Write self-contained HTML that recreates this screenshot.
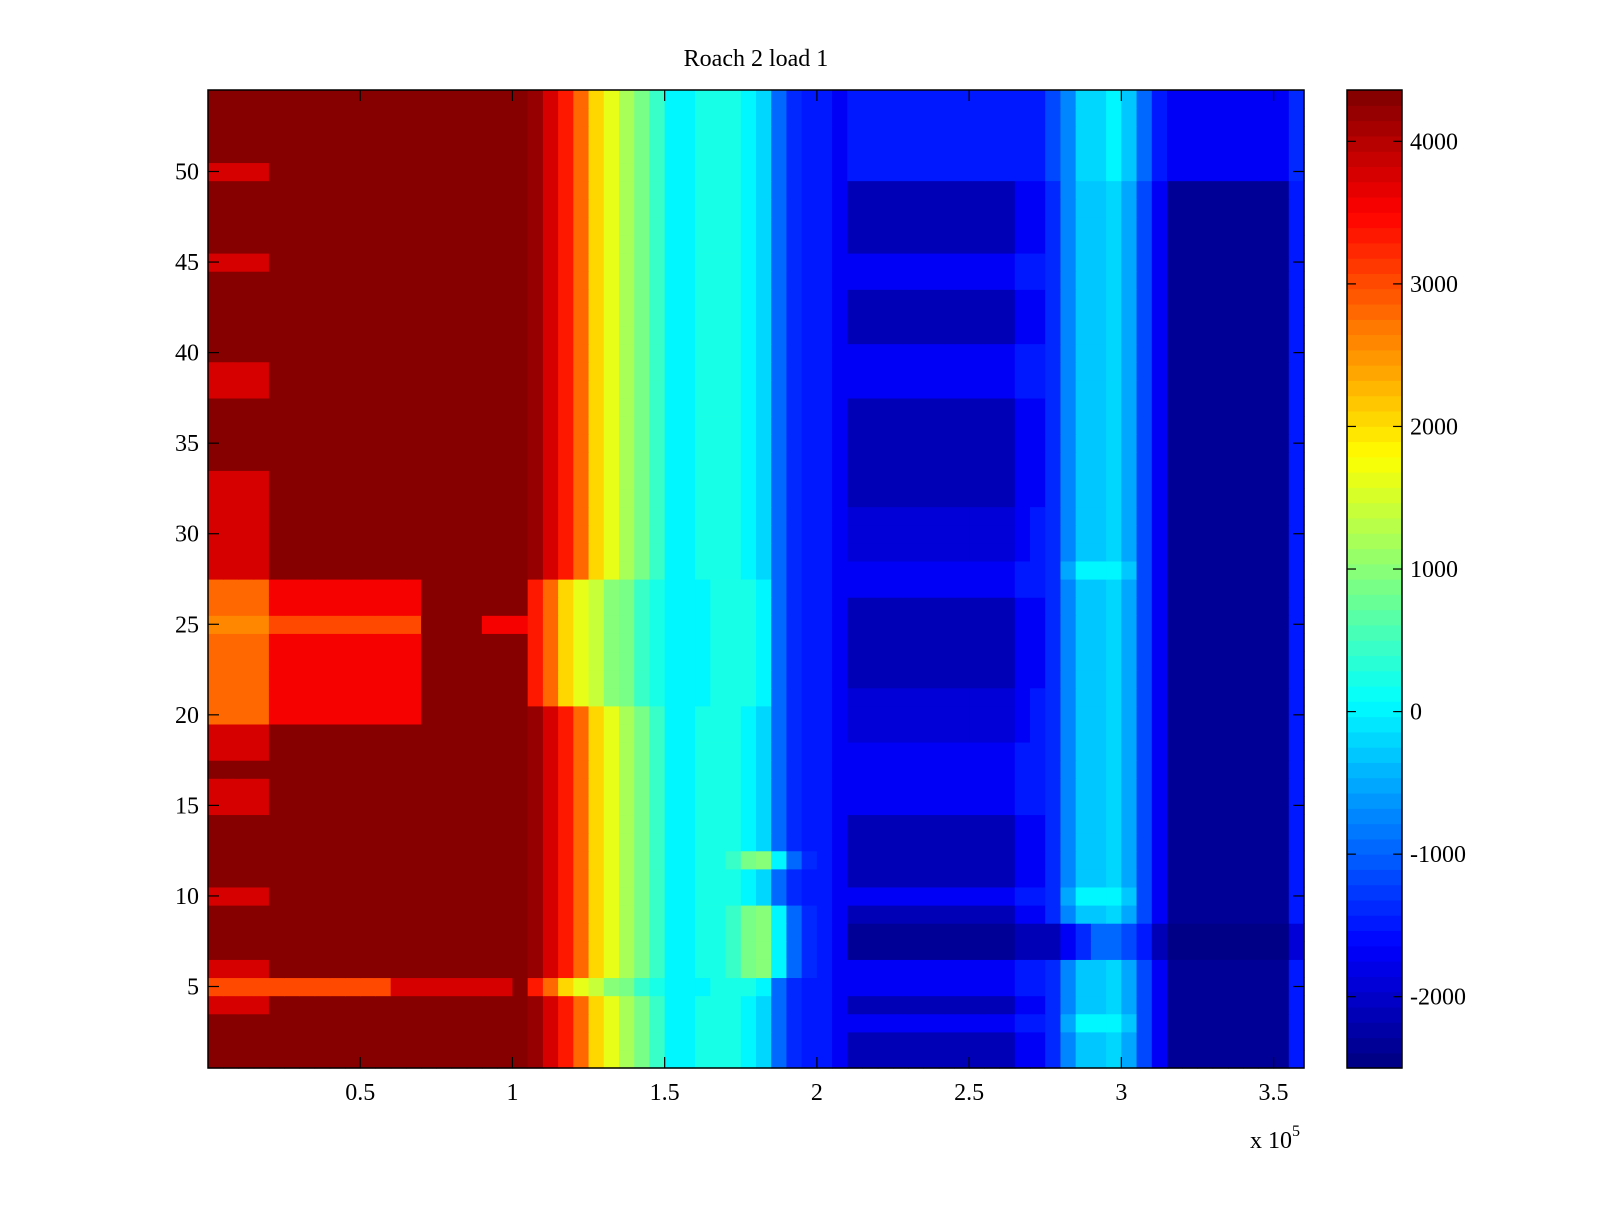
<!DOCTYPE html>
<html><head><meta charset="utf-8"><style>
html,body{margin:0;padding:0;background:#fff;}
svg text{font-family:"Liberation Serif",serif;font-size:24px;fill:#000;}
</style></head><body>
<svg id="fig" width="1600" height="1200" xmlns="http://www.w3.org/2000/svg">
<rect x="0" y="0" width="1600" height="1200" fill="#fff"/>
<text x="756" y="66" text-anchor="middle">Roach 2 load 1</text>
<g id="heat"></g>
<g id="cbar"></g>
<g id="axes"></g>
</svg>
<script>
// ---- data (code char -> value: -2500 + base36digit*196) ----
const xMax = 360000;
const colWidthUnits = 5000;
const Ld = "zzzzzzzzzzzzzzzzzzzzz";
const Lr = "wwwwzzzzzzzzzzzzzzzzz";
const Lo = "rrrrvvvvvvvvvvzzzzzzz";
const L25 = "qqqqsssssssssszzzzvvv";
const L5 = "sssssssssssswwwwwwwwz";
const Md = "ywurnljhfddeeedc86554";
const Me = "urnlkihfedddeeed86554";
const Mg = "ywurnljhfddeefhid8654";
const Rd = "22222222222" + "4469bbca74" + "11111111" + "5";
const Rb = "44444444444" + "5569bbca74" + "11111111" + "5";
const Rm = "33333333333" + "4569bbca74" + "11111111" + "5";
const Rt = "55555555555" + "5579ccdb85" + "44444444" + "6";
const Rw = "11111111111" + "2224688752" + "00000000" + "3";
const Rc = "44444444444" + "556adddb74" + "11111111" + "5";
// rows listed bottom (row 1) to top (row 54)
const rowData = [
 Ld+Md+Rd, Ld+Md+Rd, Ld+Md+Rc, Lr+Md+Rd, L5+Me+Rb,
 Lr+Mg+Rb, Ld+Mg+Rw, Ld+Mg+Rw, Ld+Mg+Rd, Lr+Md+Rc,
 Ld+Md+Rd, Ld+Mg+Rd, Ld+Md+Rd, Ld+Md+Rd, Lr+Md+Rb,
 Lr+Md+Rb, Ld+Md+Rb, Lr+Md+Rb, Lr+Md+Rm, Lo+Md+Rm,
 Lo+Me+Rm, Lo+Me+Rd, Lo+Me+Rd, Lo+Me+Rd, L25+Me+Rd,
 Lo+Me+Rd, Lo+Me+Rb, Lr+Md+Rc, Lr+Md+Rm, Lr+Md+Rm,
 Lr+Md+Rm, Lr+Md+Rd, Lr+Md+Rd, Ld+Md+Rd, Ld+Md+Rd,
 Ld+Md+Rd, Ld+Md+Rd, Lr+Md+Rb, Lr+Md+Rb, Ld+Md+Rb,
 Ld+Md+Rd, Ld+Md+Rd, Ld+Md+Rd, Ld+Md+Rb, Lr+Md+Rb,
 Ld+Md+Rd, Ld+Md+Rd, Ld+Md+Rd, Ld+Md+Rd, Lr+Md+Rt,
 Ld+Md+Rt, Ld+Md+Rt, Ld+Md+Rt, Ld+Md+Rt
];
const xTicks = [50000,100000,150000,200000,250000,300000,350000];
const xTickLabels = ["0.5","1","1.5","2","2.5","3","3.5"];
const yTicks = [5,10,15,20,25,30,35,40,45,50];
const cTicks = [-2000,-1000,0,1000,2000,3000,4000];
const clim = [-2500, 4360];

// ---- layout ----
const PL=208, PR=1304, PT=90, PB=1068;
const CL=1347, CR=1402;
const NS="http://www.w3.org/2000/svg";
const sx = v => PL + v/xMax*(PR-PL);
const sy = r => PB - (r-0.5)/54*(PB-PT);
const cy = v => PB - (v-clim[0])/(clim[1]-clim[0])*(PB-PT);
function jet(t){
  t=Math.max(0,Math.min(1,t));
  const q=Math.min(63,Math.floor(t*64)); const u=(q+0.5)/64;
  const f=x=>Math.max(0,Math.min(1,x));
  const r=f(Math.min(4*u-1.5,-4*u+4.5)), g=f(Math.min(4*u-0.5,-4*u+3.5)), b=f(Math.min(4*u+0.5,-4*u+2.5));
  return `rgb(${Math.round(r*255)},${Math.round(g*255)},${Math.round(b*255)})`;
}
function mk(tag,attrs,parent){const e=document.createElementNS(NS,tag);for(const k in attrs)e.setAttribute(k,attrs[k]);parent.appendChild(e);return e;}
const heat=document.getElementById('heat');
rowData.forEach((s,ri)=>{
  const r=ri+1;
  for(let c=0;c<s.length;c++){
    const v=clim[0]+parseInt(s[c],36)*196;
    const x0=sx(c*colWidthUnits), x1=sx((c+1)*colWidthUnits);
    const y0=sy(r+0.5), y1=sy(r-0.5);
    const el=mk('rect',{x:x0,y:y0,width:x1-x0+0.6,height:y1-y0+0.6,fill:jet((v-clim[0])/(clim[1]-clim[0]))},heat);
    
    
  }
});
const ax=document.getElementById('axes');
let fr=mk('rect',{x:PL,y:PT,width:PR-PL,height:PB-PT,fill:'none',stroke:'#000','stroke-width':1.5},ax);


xTicks.forEach((v,i)=>{
  const x=sx(v);
  mk('line',{x1:x,x2:x,y1:PB,y2:PB-11,stroke:'#000','stroke-width':1.2},ax);
  mk('line',{x1:x,x2:x,y1:PT,y2:PT+11,stroke:'#000','stroke-width':1.2},ax);
  const t=mk('text',{x:x,y:PB+32,'text-anchor':'middle'},ax);
  t.textContent=xTickLabels[i];
  
  
});
yTicks.forEach(v=>{
  const y=sy(v);
  mk('line',{x1:PL,x2:PL+11,y1:y,y2:y,stroke:'#000','stroke-width':1.2},ax);
  mk('line',{x1:PR,x2:PR-11,y1:y,y2:y,stroke:'#000','stroke-width':1.2},ax);
  const t=mk('text',{x:PL-9,y:y+8,'text-anchor':'end'},ax);
  t.textContent=String(v);
  
  
});
const ex=mk('text',{x:1250,y:1148},ax);
ex.innerHTML='x 10<tspan dy="-12" font-size="16">5</tspan>';


const cb=document.getElementById('cbar');
for(let i=0;i<64;i++){
  const y0=PT+(PB-PT)*(63-i)/64, y1=PT+(PB-PT)*(64-i)/64;
  const el=mk('rect',{x:CL,y:y0,width:CR-CL,height:y1-y0+0.6,fill:jet((i+0.5)/64)},cb);
  
  
}
mk('rect',{x:CL,y:PT,width:CR-CL,height:PB-PT,fill:'none',stroke:'#000','stroke-width':1.5},cb);
cTicks.forEach(v=>{
  const y=cy(v);
  mk('line',{x1:CL,x2:CL+9,y1:y,y2:y,stroke:'#000','stroke-width':1.2},cb);
  mk('line',{x1:CR,x2:CR-9,y1:y,y2:y,stroke:'#000','stroke-width':1.2},cb);
  const t=mk('text',{x:1410,y:y+8},cb);
  t.textContent=String(v);
  
  
});
</script>
</body></html>
